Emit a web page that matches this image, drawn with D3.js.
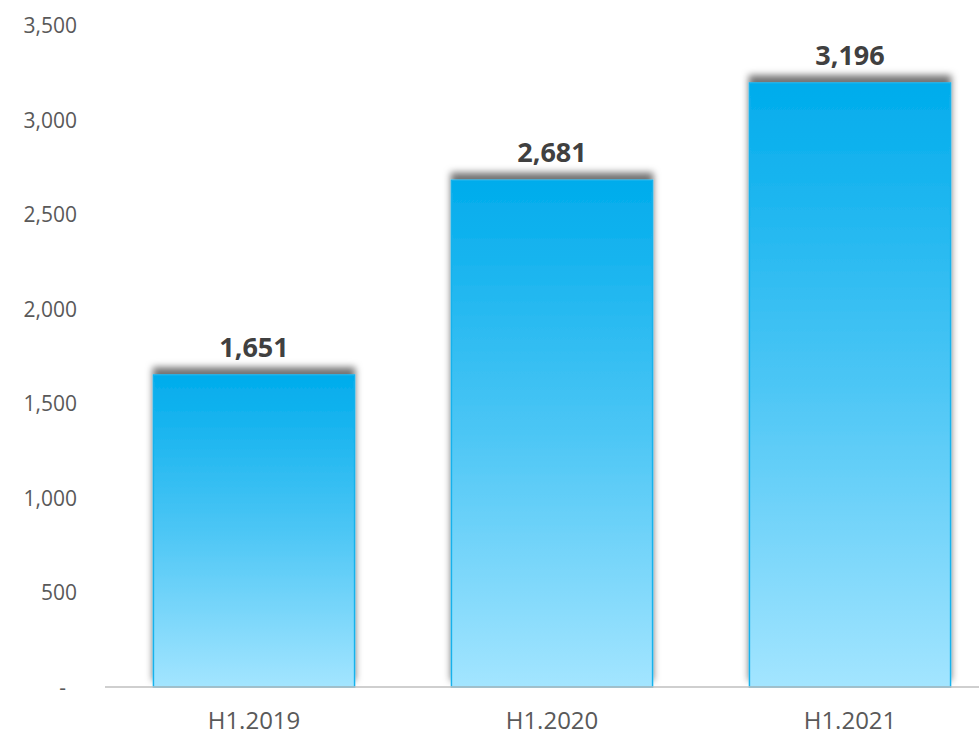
<!DOCTYPE html>
<html>
<head>
<meta charset="utf-8">
<script src="https://cdn.jsdelivr.net/npm/d3@7"></script>
<style>
  body { margin: 0; background: #fff; }
  svg { display: block; font-family: "Open Sans", sans-serif; }
</style>
</head>
<body>
<svg id="chart" width="979" height="736"></svg>
<script>
var categories = ['H1.2019', 'H1.2020', 'H1.2021'];
var values = [1651, 2681, 3196];
var yTicks = [0, 500, 1000, 1500, 2000, 2500, 3000, 3500];

var svg = d3.select('#chart');

var x = d3.scaleBand()
    .domain(categories)
    .range([105, 999])
    .paddingInner(0.325)
    .paddingOuter(0.1625);

var y = d3.scaleLinear()
    .domain([0, 3500])
    .range([687, 25.5]);

var defs = svg.append('defs');

var grad = defs.append('linearGradient')
    .attr('id', 'barFill')
    .attr('x1', 0).attr('y1', 0)
    .attr('x2', 0).attr('y2', 1);
grad.append('stop').attr('offset', '0%').attr('stop-color', '#00acec');
grad.append('stop').attr('offset', '50%').attr('stop-color', '#4cc6f5');
grad.append('stop').attr('offset', '100%').attr('stop-color', '#a3e5ff');

var shadow = defs.append('filter')
    .attr('id', 'barShadow')
    .attr('x', '-10%').attr('y', '-10%')
    .attr('width', '120%').attr('height', '120%');
shadow.append('feGaussianBlur').attr('in', 'SourceAlpha').attr('stdDeviation', 3.5);
shadow.append('feOffset').attr('dy', -7).attr('result', 'off');
shadow.append('feFlood').attr('flood-color', '#000').attr('flood-opacity', 0.55);
shadow.append('feComposite').attr('in2', 'off').attr('operator', 'in');
var merge = shadow.append('feMerge');
merge.append('feMergeNode');
merge.append('feMergeNode').attr('in', 'SourceGraphic');

// y tick labels (accounting style, zero as dash)
svg.append('g')
    .selectAll('text')
    .data(yTicks)
    .join('text')
    .attr('x', function(d) { return d === 0 ? 66 : 77; })
    .attr('y', function(d) { return y(d); })
    .attr('dy', '0.36em')
    .attr('text-anchor', 'end')
    .attr('fill', '#595959')
    .style('font-size', '21px')
    .text(function(d) { return d === 0 ? '-' : d3.format(',')(d); });

// bars
svg.append('g')
    .selectAll('rect')
    .data(values)
    .join('rect')
    .attr('x', function(d, i) { return x(categories[i]); })
    .attr('y', function(d) { return y(d); })
    .attr('width', x.bandwidth())
    .attr('height', function(d) { return y(0) - y(d); })
    .attr('fill', 'url(#barFill)')
    .attr('stroke', '#18b2ec')
    .attr('stroke-width', 1.5)
    .attr('filter', 'url(#barShadow)');

// baseline
svg.append('line')
    .attr('x1', 105).attr('x2', 979)
    .attr('y1', y(0)).attr('y2', y(0))
    .attr('stroke', '#bfbfbf')
    .attr('stroke-width', 1.5);

// value labels
svg.append('g')
    .selectAll('text')
    .data(values)
    .join('text')
    .attr('x', function(d, i) { return x(categories[i]) + x.bandwidth() / 2; })
    .attr('y', function(d) { return y(d) - 18; })
    .attr('text-anchor', 'middle')
    .attr('fill', '#404040')
    .style('font-size', '27px')
    .style('font-weight', 'bold')
    .text(function(d) { return d3.format(',')(d); });

// category labels
svg.append('g')
    .selectAll('text')
    .data(categories)
    .join('text')
    .attr('x', function(d) { return x(d) + x.bandwidth() / 2; })
    .attr('y', 729)
    .attr('text-anchor', 'middle')
    .attr('fill', '#595959')
    .style('font-size', '24px')
    .text(function(d) { return d; });
</script>
</body>
</html>
